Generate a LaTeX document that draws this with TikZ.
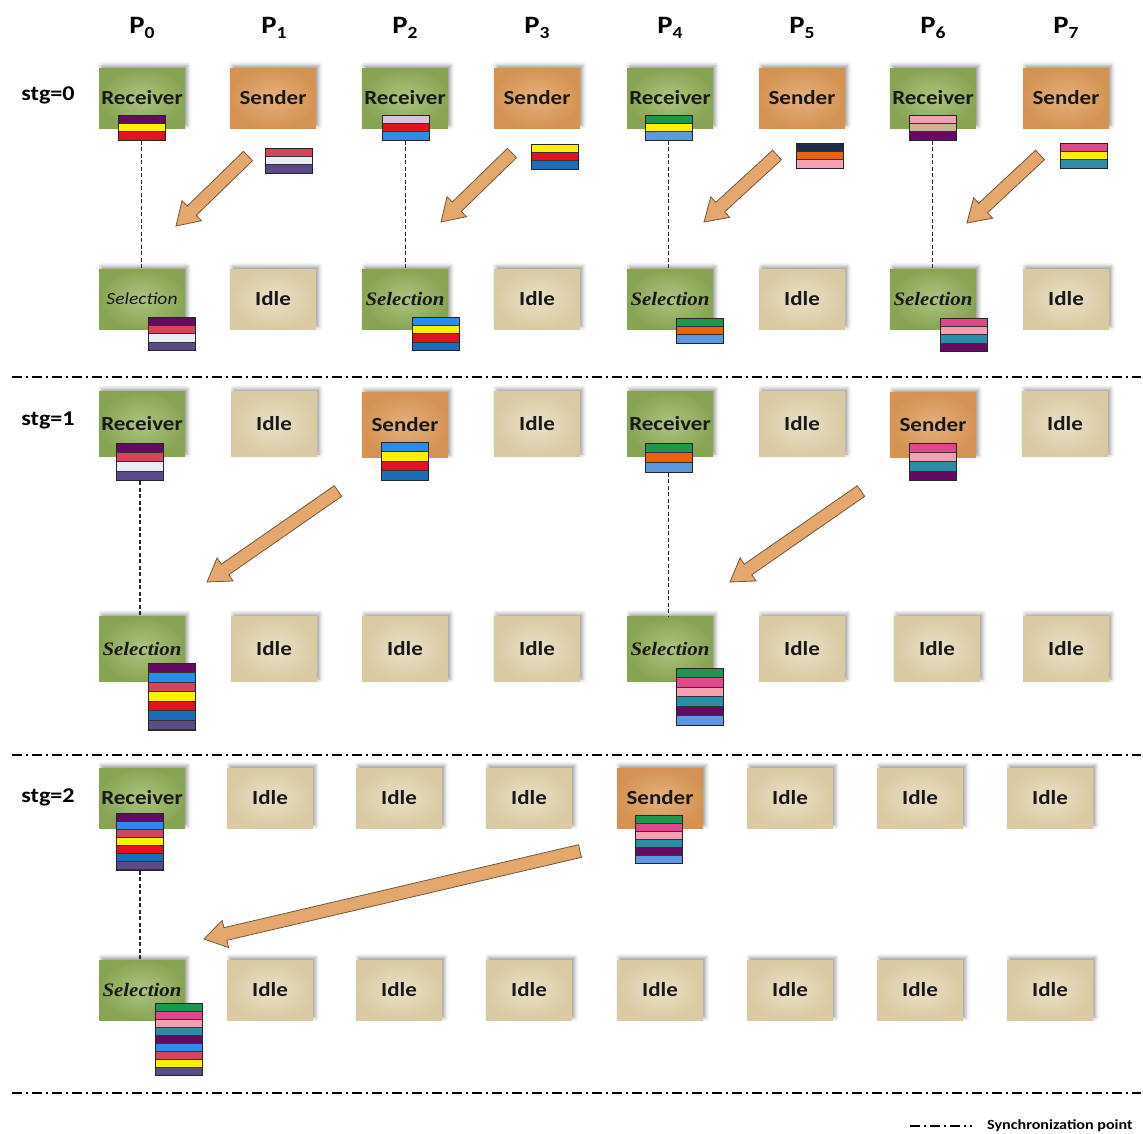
\documentclass[tikz,border=0pt]{standalone}
\usepackage{fontspec}
\setmainfont{Carlito}[FakeStretch=1.15]
\newfontfamily\selfont{Liberation Serif}[FakeStretch=1.1]
\usetikzlibrary{calc,shadows.blur}

% stripe colours of the data blocks
\definecolor{cPurple}{HTML}{650A63}
\definecolor{cYellow}{HTML}{FFF000}
\definecolor{cRed}{HTML}{E0141E}
\definecolor{cCrimson}{HTML}{D5455A}
\definecolor{cWhite}{HTML}{E9EEF5}
\definecolor{cSlate}{HTML}{5A4A86}
\definecolor{cLavender}{HTML}{D8C4DC}
\definecolor{cBright}{HTML}{2C8CEB}
\definecolor{cBlue}{HTML}{1B6DB5}
\definecolor{cGreen}{HTML}{1D9650}
\definecolor{cLight}{HTML}{5C98DD}
\definecolor{cNavy}{HTML}{1E2D48}
\definecolor{cOrange}{HTML}{E6640F}
\definecolor{cPink}{HTML}{F4A0B2}
\definecolor{cTan}{HTML}{C6B592}
\definecolor{cMagenta}{HTML}{E2468C}
\definecolor{cTeal}{HTML}{2B8DA6}
% box colours
\definecolor{grnIn}{HTML}{ADC482}
\definecolor{grnOut}{HTML}{87A452}
\definecolor{orgIn}{HTML}{E5B07E}
\definecolor{orgOut}{HTML}{D49352}
\definecolor{idlIn}{HTML}{EAE0C6}
\definecolor{idlOut}{HTML}{D9CAA3}
\definecolor{arrFill}{HTML}{E4A86E}
\definecolor{arrLine}{HTML}{6E5A3E}

% stack of coloured stripes: name, x centre, y top, count, stripe height, colours
\newcommand\stripes[6]{%
  \foreach \c [count=\i from 0] in {#6}
    \draw[stripe, fill=\c] ({#2-23.5},{#3+\i*#5}) rectangle ++(47,#5);
  \node[stackframe, minimum height={#4*#5}, anchor=north] (#1) at (#2,#3) {};
}

% broad block arrow from tail coordinate to tip coordinate
\newcommand\blockarrow[2]{%
  \coordinate (hb) at ($(#2)!22pt!(#1)$);
  \draw[barrow] ($(#1)!6.5pt!90:(#2)$) -- ($(hb)!6.5pt!90:(#2)$)
    -- ($(hb)!14pt!90:(#2)$) -- (#2) -- ($(hb)!14pt!-90:(#2)$)
    -- ($(hb)!6.5pt!-90:(#2)$) -- ($(#1)!6.5pt!-90:(#2)$) -- cycle;
}

\begin{document}
\begin{tikzpicture}[x=1pt,y=-1pt,
  box/.style={rectangle, minimum width=86pt, minimum height=60pt, inner sep=0pt,
    text=black!90, font=\bfseries\fontsize{20}{24}\selectfont,
    blur shadow={shadow xshift=2.5pt, shadow yshift=2.5pt, shadow blur radius=4pt, shadow opacity=40}},
  recvbox/.style={box, inner color=grnIn, outer color=grnOut},
  sendbox/.style={box, inner color=orgIn, outer color=orgOut},
  idlebox/.style={box, inner color=idlIn, outer color=idlOut},
  selbox/.style={recvbox, font=\selfont\bfseries\itshape\fontsize{19}{22}\selectfont},
  tall/.style={minimum height=65pt},
  stripe/.style={draw=black!80, line width=0.7pt},
  stackframe/.style={draw=black!85, line width=0.8pt, minimum width=47pt, inner sep=0pt},
  dline/.style={draw=black!85, line width=1.6pt, dash pattern=on 4pt off 2.5pt},
  syncline/.style={draw=black, line width=1.6pt, dash pattern=on 10pt off 4pt on 2pt off 4pt},
  barrow/.style={fill=arrFill, draw=arrLine, line width=0.8pt, line join=miter},
  proc/.style={font=\bfseries\fontsize{25}{28}\selectfont},
  stage/.style={font=\bfseries\fontsize{21}{24}\selectfont},
]
\useasboundingbox (0,0) rectangle (1143,1133);

% processor headings
\foreach \x [count=\k from 0] in {142,274,405,537,670,802,933,1066}
  \node[proc] (p\k) at (\x,28) {P\raisebox{-5pt}{\fontsize{17}{17}\selectfont\k}};

% stage labels
\node[stage] (g0) at (48,95) {stg=0};
\node[stage] (g1) at (48,420) {stg=1};
\node[stage] (g2) at (48,797) {stg=2};

% ---- stage 0 ----
\node[recvbox] (a0) at (142,98) {Receiver};
\node[sendbox] (a1) at (273,98) {Sender};
\node[recvbox] (a2) at (405,98) {Receiver};
\node[sendbox] (a3) at (537,98) {Sender};
\node[recvbox] (a4) at (670,98) {Receiver};
\node[sendbox] (a5) at (802,98) {Sender};
\node[recvbox] (a6) at (933,98) {Receiver};
\node[sendbox] (a7) at (1066,98) {Sender};

\node[recvbox, font=\itshape\fontsize{17}{20}\selectfont] (b0) at (142,299) {Selection};
\node[idlebox] (b1) at (273,299) {Idle};
\node[selbox] (b2) at (405,299) {Selection};
\node[idlebox] (b3) at (537,299) {Idle};
\node[selbox] (b4) at (670,299) {Selection};
\node[idlebox] (b5) at (802,299) {Idle};
\node[selbox] (b6) at (933,299) {Selection};
\node[idlebox] (b7) at (1066,299) {Idle};

% ---- stage 1 ----
\node[recvbox, tall] (c0) at (142,424) {Receiver};
\node[idlebox, tall] (c1) at (274,424) {Idle};
\node[sendbox, tall] (c2) at (405,425) {Sender};
\node[idlebox, tall] (c3) at (537,424) {Idle};
\node[recvbox, tall] (c4) at (670,424) {Receiver};
\node[idlebox, tall] (c5) at (802,424) {Idle};
\node[sendbox, tall] (c6) at (933,425) {Sender};
\node[idlebox, tall] (c7) at (1065,424) {Idle};

\node[selbox, tall] (d0) at (142,649) {Selection};
\node[idlebox, tall] (d1) at (274,649) {Idle};
\node[idlebox, tall] (d2) at (405,649) {Idle};
\node[idlebox, tall] (d3) at (537,649) {Idle};
\node[selbox, tall] (d4) at (670,649) {Selection};
\node[idlebox, tall] (d5) at (802,649) {Idle};
\node[idlebox, tall] (d6) at (937,649) {Idle};
\node[idlebox, tall] (d7) at (1066,649) {Idle};

% ---- stage 2 ----
\node[recvbox] (e0) at (142,798) {Receiver};
\node[idlebox] (e1) at (270,798) {Idle};
\node[idlebox] (e2) at (399,798) {Idle};
\node[idlebox] (e3) at (529,798) {Idle};
\node[sendbox] (e4) at (660,798) {Sender};
\node[idlebox] (e5) at (790,798) {Idle};
\node[idlebox] (e6) at (920,798) {Idle};
\node[idlebox] (e7) at (1050,798) {Idle};

\node[selbox] (f0) at (142,990) {Selection};
\node[idlebox] (f1) at (270,990) {Idle};
\node[idlebox] (f2) at (399,990) {Idle};
\node[idlebox] (f3) at (529,990) {Idle};
\node[idlebox] (f4) at (660,990) {Idle};
\node[idlebox] (f5) at (790,990) {Idle};
\node[idlebox] (f6) at (920,990) {Idle};
\node[idlebox] (f7) at (1050,990) {Idle};

% ---- data blocks ----
\stripes{sa0}{141.5}{115}{3}{8.3}{cPurple,cYellow,cRed}
\stripes{sa1}{289}{148}{3}{8.3}{cCrimson,cWhite,cSlate}
\stripes{sb0}{171.5}{317}{4}{8.3}{cPurple,cCrimson,cWhite,cSlate}
\stripes{sa2}{405.5}{115}{3}{8.3}{cLavender,cRed,cBright}
\stripes{sa3}{555}{144}{3}{8.3}{cYellow,cRed,cBlue}
\stripes{sb2}{435.5}{317}{4}{8.3}{cBright,cYellow,cRed,cBlue}
\stripes{sa4}{668.5}{115}{3}{8.3}{cGreen,cYellow,cLight}
\stripes{sa5}{820}{143}{3}{8.3}{cNavy,cOrange,cPink}
\stripes{sb4}{700}{318}{3}{8.3}{cGreen,cOrange,cLight}
\stripes{sa6}{932.5}{115}{3}{8.3}{cPink,cTan,cPurple}
\stripes{sa7}{1083.5}{143}{3}{8.3}{cMagenta,cYellow,cTeal}
\stripes{sb6}{964}{318}{4}{8.3}{cMagenta,cPink,cTeal,cPurple}

\stripes{sc0}{140}{443}{4}{9.3}{cPurple,cCrimson,cWhite,cSlate}
\stripes{sc2}{405}{442}{4}{9.5}{cBright,cYellow,cRed,cBlue}
\stripes{sc4}{668.5}{443}{3}{9.7}{cGreen,cOrange,cLight}
\stripes{sc6}{932.5}{443}{4}{9.3}{cMagenta,cPink,cTeal,cPurple}
\stripes{sd0}{171.5}{663}{7}{9.5}{cPurple,cBright,cCrimson,cYellow,cRed,cBlue,cSlate}
\stripes{sd4}{700}{668}{6}{9.5}{cGreen,cMagenta,cPink,cTeal,cPurple,cLight}

\stripes{se0}{140}{813}{7}{8.1}{cPurple,cBright,cCrimson,cYellow,cRed,cBlue,cSlate}
\stripes{se4}{659}{815}{6}{8}{cGreen,cMagenta,cPink,cTeal,cPurple,cLight}
\stripes{sf0}{178.5}{1003}{9}{8}{cGreen,cMagenta,cPink,cTeal,cPurple,cBright,cCrimson,cYellow,cSlate}

% ---- receiver to selection links ----
\draw[dline] (sa0.south) -- (sa0.south |- b0.north);
\draw[dline] (sa2.south) -- (sa2.south |- b2.north);
\draw[dline] (sa4.south) -- (sa4.south |- b4.north);
\draw[dline] (sa6.south) -- (sa6.south |- b6.north);
\draw[dline] (sc0.south) -- (sc0.south |- d0.north);
\draw[dline] (sc4.south) -- (sc4.south |- d4.north);
\draw[dline] (se0.south) -- (se0.south |- f0.north);

% ---- transfer arrows ----
\coordinate (t1) at (248,156); \coordinate (h1) at (176,226);
\coordinate (t2) at (512,153); \coordinate (h2) at (441,222);
\coordinate (t3) at (777,155); \coordinate (h3) at (704,222);
\coordinate (t4) at (1040,155); \coordinate (h4) at (967,223);
\coordinate (t5) at (338,491); \coordinate (h5) at (207,582);
\coordinate (t6) at (861,491); \coordinate (h6) at (730,582);
\coordinate (t7) at (580,851); \coordinate (h7) at (204,939);
\blockarrow{t1}{h1}
\blockarrow{t2}{h2}
\blockarrow{t3}{h3}
\blockarrow{t4}{h4}
\blockarrow{t5}{h5}
\blockarrow{t6}{h6}
\blockarrow{t7}{h7}

% ---- synchronization lines ----
\coordinate (y1a) at (12,377);  \coordinate (y1b) at (1141,377);
\coordinate (y2a) at (12,755);  \coordinate (y2b) at (1141,755);
\coordinate (y3a) at (12,1093); \coordinate (y3b) at (1141,1093);
\draw[syncline] (y1a) -- (y1b);
\draw[syncline] (y2a) -- (y2b);
\draw[syncline] (y3a) -- (y3b);

% legend
\coordinate (lg1) at (910,1126); \coordinate (lg2) at (972,1126);
\draw[syncline] (lg1) -- (lg2);
\node[anchor=west, inner sep=0pt, font=\bfseries\fontsize{14}{16}\selectfont] (lgt) at (987,1126) {Synchronization point};
\end{tikzpicture}
\end{document}
